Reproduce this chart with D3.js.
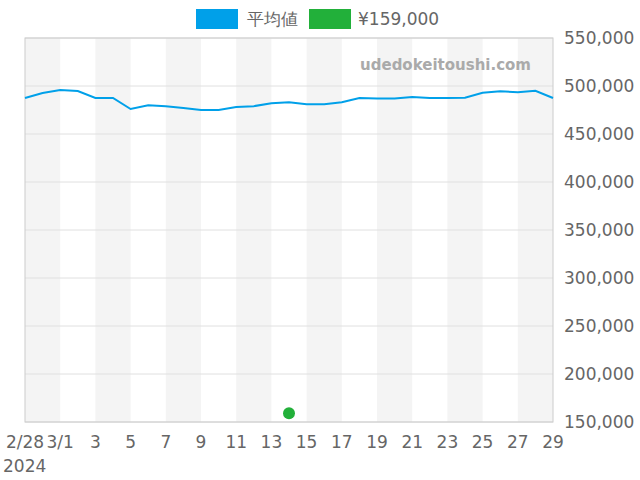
<!DOCTYPE html><html><head><meta charset="utf-8"><script src="https://cdn.jsdelivr.net/npm/d3@7"></script>
<style>body{margin:0;background:#fff}text{font-family:"DejaVu Sans",sans-serif}</style></head><body><svg width="640" height="480"></svg>
<script>
const dates=["2024-02-28","2024-02-29","2024-03-01","2024-03-02","2024-03-03","2024-03-04","2024-03-05","2024-03-06","2024-03-07","2024-03-08","2024-03-09","2024-03-10","2024-03-11","2024-03-12","2024-03-13","2024-03-14","2024-03-15","2024-03-16","2024-03-17","2024-03-18","2024-03-19","2024-03-20","2024-03-21","2024-03-22","2024-03-23","2024-03-24","2024-03-25","2024-03-26","2024-03-27","2024-03-28","2024-03-29"];
const avg=[487500,492700,495800,494800,487500,487500,476000,480000,479000,477000,475000,475000,478000,479000,482000,483000,481000,481000,483000,487500,487000,487000,488500,487500,487500,487800,493000,494500,493500,495000,487500];
const pointDate="2024-03-14", pointVal=159000;
const yTicks=[150000,200000,250000,300000,350000,400000,450000,500000,550000];
const xLabels=["2/28","3/1","3","5","7","9","11","13","15","17","19","21","23","25","27","29"];
const p=d3.timeParse("%Y-%m-%d");
const svg=d3.select("svg");
const L=25,R=553,T=38,B=422;
const x=d3.scaleTime().domain([p(dates[0]),p(dates[dates.length-1])]).range([L,R]);
const y=d3.scaleLinear().domain([150000,550000]).range([B,T]);
for(let i=0;i<dates.length-1;i+=4){
  const a=p(dates[i]), b=p(dates[Math.min(i+2,dates.length-1)]);
  svg.append("rect").attr("x",x(a)).attr("y",T).attr("width",x(b)-x(a)).attr("height",B-T).attr("fill","#f4f4f4");
}
yTicks.forEach(t=>svg.append("line").attr("x1",L).attr("x2",R).attr("y1",y(t)).attr("y2",y(t)).attr("stroke","#e0e0e0"));
svg.append("rect").attr("x",L).attr("y",T).attr("width",R-L).attr("height",B-T).attr("fill","none").attr("stroke","#ccc");
yTicks.forEach(t=>svg.append("text").attr("x",R+11).attr("y",y(t)+6).attr("font-size",17).attr("fill","#666").text(d3.format(",")(t)));
const tickDates=[0,2,4,6,8,10,12,14,16,18,20,22,24,26,28,30];
tickDates.forEach((i,k)=>{
  svg.append("text").attr("x",x(p(dates[i]))).attr("y",448).attr("text-anchor","middle").attr("font-size",17).attr("fill","#666").text(xLabels[k]);
});
svg.append("text").attr("x",3).attr("y",472).attr("font-size",17).attr("fill","#666").text("2024");
svg.append("path").datum(avg).attr("fill","none").attr("stroke","#00a0e9").attr("stroke-width",2)
 .attr("d",d3.line().x((d,i)=>x(p(dates[i]))).y(d=>y(d)));
svg.append("circle").attr("cx",x(p(pointDate))).attr("cy",y(pointVal)).attr("r",6).attr("fill","#22b03a");
svg.append("text").attr("x",531).attr("y",70).attr("text-anchor","end").attr("font-size",15).attr("font-weight","bold").attr("fill","#aaa").text("udedokeitoushi.com");
svg.append("rect").attr("x",196).attr("y",9).attr("width",42).attr("height",20).attr("fill","#00a0e9");
svg.append("text").attr("x",247).attr("y",25).attr("font-size",17).attr("fill","#666").attr("font-family","Noto Sans CJK JP").text("平均値");
svg.append("rect").attr("x",309).attr("y",9).attr("width",42).attr("height",20).attr("fill","#22b03a");
svg.append("text").attr("x",358).attr("y",25).attr("font-size",17).attr("fill","#666").text("¥159,000");
</script></body></html>
